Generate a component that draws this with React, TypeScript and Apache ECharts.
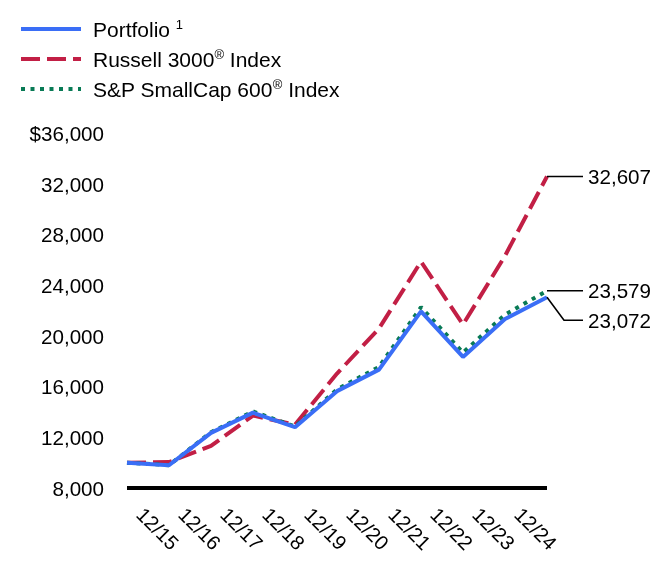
import React, { useEffect, useRef } from "react";
import * as echarts from "echarts";

const periods = ["12/14", "12/15", "12/16", "12/17", "12/18", "12/19", "12/20", "12/21", "12/22", "12/23", "12/24"];
const portfolio = [10000, 9800, 12350, 13950, 12800, 15650, 17350, 21950, 18350, 21350, 23072];
const russell3000 = [10000, 10048, 11328, 13722, 13003, 17036, 20595, 25880, 20908, 26336, 32607];
const sp600 = [10000, 9803, 12407, 14048, 12857, 15786, 17568, 22280, 18693, 21693, 23579];
const yMin = 8000;
const yMax = 36000;
const yStep = 4000;

const NAME_P = "Portfolio";
const NAME_R = "Russell 3000® Index";
const NAME_S = "S&P SmallCap 600® Index";

const FONT = "'Liberation Sans', Arial, Helvetica, sans-serif";
const BLUE = "#3A6EF6";
const RED = "#C21F45";
const GREEN = "#087A55";

const fmt = (v: number) => v.toLocaleString("en-US");

export default function App() {
  const ref = useRef<HTMLDivElement>(null);
  useEffect(() => {
    if (!ref.current) return;
    const chart = echarts.init(ref.current, undefined, { renderer: "svg" });
    const last = periods.length - 1;
    const endPoints = [
      [last, russell3000[last]],
      [last, sp600[last]],
      [last, portfolio[last]],
    ];
    chart.setOption({
      animation: false,
      textStyle: { fontFamily: FONT },
      grid: { left: 127, right: 125, top: 133.5, bottom: 100 },
      legend: {
        orient: "vertical",
        left: 14,
        top: 13,
        itemWidth: 60,
        itemHeight: 14,
        itemGap: 8.5,
        data: [NAME_P, NAME_R, NAME_S],
        lineStyle: { width: 4 },
        itemStyle: { opacity: 0, borderWidth: 0 },
        formatter: (name: string) => {
          if (name === NAME_P) return "{a|Portfolio }{s|1}";
          if (name === NAME_R) return "{a|Russell 3000}{s|®}{a| Index}";
          return "{a|S&P SmallCap 600}{s|®}{a| Index}";
        },
        textStyle: {
          padding: [0, 0, 0, 7],
          rich: {
            a: { fontSize: 21, color: "#000", fontFamily: FONT, lineHeight: 22 },
            s: { fontSize: 13, color: "#000", fontFamily: FONT, verticalAlign: "top", lineHeight: 22, padding: [0, 0, 6, 0] },
          },
        },
      },
      xAxis: {
        type: "category",
        data: periods,
        boundaryGap: false,
        axisLine: { show: true, lineStyle: { color: "#000", width: 4, cap: "butt" } },
        axisTick: { show: false },
        splitLine: { show: false },
        axisLabel: {
          interval: (i: number) => i > 0,
          rotate: -45,
          align: "center",
          verticalAlign: "middle",
          padding: [0, 32, 0, 0],
          margin: 52,
          fontSize: 20,
          color: "#000",
          fontFamily: FONT,
        },
      },
      yAxis: {
        type: "value",
        min: yMin,
        max: yMax,
        interval: yStep,
        axisLine: { show: false },
        axisTick: { show: false },
        splitLine: { show: false },
        axisLabel: {
          margin: 23,
          fontSize: 20.6,
          color: "#000",
          fontFamily: FONT,
          formatter: (v: number) => (v === yMax ? "$" + fmt(v) : fmt(v)),
        },
      },
      series: [
        {
          name: NAME_R,
          type: "line",
          data: russell3000,
          symbol: "none",
          z: 2,
          lineStyle: { color: RED, width: 4, type: [19, 7] },
          itemStyle: { color: RED },
        },
        {
          name: NAME_S,
          type: "line",
          data: sp600,
          symbol: "none",
          z: 3,
          lineStyle: { color: GREEN, width: 4, type: [4, 5.5] },
          itemStyle: { color: GREEN },
        },
        {
          name: NAME_P,
          type: "line",
          data: portfolio,
          symbol: "none",
          z: 4,
          lineStyle: { color: BLUE, width: 4 },
          itemStyle: { color: BLUE },
        },
        {
          type: "custom",
          coordinateSystem: "cartesian2d",
          data: endPoints,
          clip: false,
          silent: true,
          z: 5,
          encode: { x: 0, y: 1 },
          renderItem: (params: any, api: any) => {
            const p = api.coord([api.value(0), api.value(1)]);
            const bend = params.dataIndex === 2;
            const dy = bend ? 23 : 0;
            const pts = bend
              ? [[p[0], p[1]], [p[0] + 17, p[1] + dy], [p[0] + 36, p[1] + dy]]
              : [[p[0], p[1]], [p[0] + 36, p[1]]];
            return {
              type: "group",
              children: [
                { type: "polyline", shape: { points: pts }, style: { stroke: "#000", lineWidth: 1.6, fill: null } },
                {
                  type: "text",
                  x: p[0] + 41,
                  y: p[1] + dy,
                  style: {
                    text: fmt(api.value(1)),
                    fill: "#000",
                    fontSize: 20.6,
                    fontFamily: FONT,
                    align: "left",
                    verticalAlign: "middle",
                  },
                },
              ],
            };
          },
        },
      ],
    });
    return () => chart.dispose();
  }, []);
  return <div ref={ref} style={{ position: "fixed", left: 0, top: 0, width: 672, height: 588 }} />;
}
